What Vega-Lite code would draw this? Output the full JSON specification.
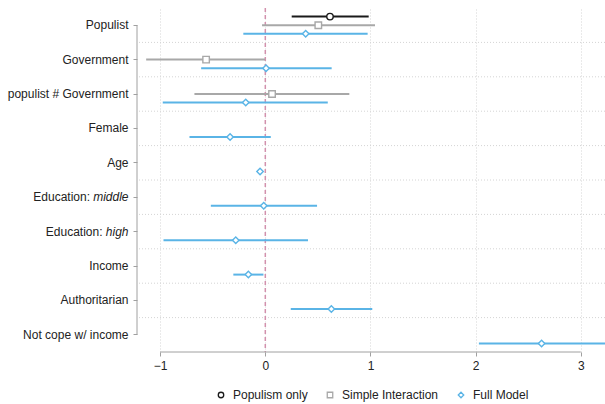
{
  "$schema": "https://vega.github.io/schema/vega-lite/v6.json",
  "autosize": "none",
  "width": 468,
  "height": 344,
  "padding": {"left": 137, "top": 8, "right": 0, "bottom": 52},
  "background": "white",
  "config": {
    "view": {"stroke": null},
    "font": "Liberation Sans",
    "axis": {"labelFont": "Liberation Sans", "labelFontSize": 12, "labelColor": "#222222"},
    "legend": {"labelFont": "Liberation Sans", "labelFontSize": 12, "labelColor": "#222222"}
  },
  "datasets": {
    "coef": [
      {"term": "Populist", "model": "Populism only", "est": 0.615, "lo": 0.251, "hi": 0.983},
      {"term": "Populist", "model": "Simple Interaction", "est": 0.504, "lo": -0.031, "hi": 1.043},
      {"term": "Populist", "model": "Full Model", "est": 0.384, "lo": -0.209, "hi": 0.973},
      {"term": "Government", "model": "Simple Interaction", "est": -0.563, "lo": -1.133, "hi": -0.002},
      {"term": "Government", "model": "Full Model", "est": 0.007, "lo": -0.61, "hi": 0.631},
      {"term": "populist # Government", "model": "Simple Interaction", "est": 0.064, "lo": -0.674, "hi": 0.799},
      {"term": "populist # Government", "model": "Full Model", "est": -0.186, "lo": -0.975, "hi": 0.594},
      {"term": "Female", "model": "Full Model", "est": -0.335, "lo": -0.721, "hi": 0.052},
      {"term": "Age", "model": "Full Model", "est": -0.05, "lo": -0.075, "hi": -0.028},
      {"term": "Education: middle", "model": "Full Model", "est": -0.015, "lo": -0.518, "hi": 0.492},
      {"term": "Education: high", "model": "Full Model", "est": -0.281, "lo": -0.968, "hi": 0.406},
      {"term": "Income", "model": "Full Model", "est": -0.161, "lo": -0.304, "hi": -0.018},
      {"term": "Authoritarian", "model": "Full Model", "est": 0.628, "lo": 0.242, "hi": 1.017},
      {"term": "Not cope w/ income", "model": "Full Model", "est": 2.627, "lo": 2.031, "hi": 3.23}
    ],
    "terms": [
      {"term": "Populist"},
      {"term": "Government"},
      {"term": "populist # Government"},
      {"term": "Female"},
      {"term": "Age"},
      {"term": "Education: middle"},
      {"term": "Education: high"},
      {"term": "Income"},
      {"term": "Authoritarian"},
      {"term": "Not cope w/ income"}
    ]
  },
  "resolve": {"axis": {"y": "independent"}},
  "layer": [
    {
      "data": {"name": "terms"},
      "transform": [{"filter": "datum.term !== 'Populist'"}],
      "mark": {"type": "rule", "color": "#d4d4d4", "strokeDash": [1, 2], "strokeWidth": 1},
      "encoding": {
        "y": {
          "field": "term",
          "type": "nominal",
          "bandPosition": 0,
          "scale": {
            "domain": ["Populist", "Government", "populist # Government", "Female", "Age", "Education: middle", "Education: high", "Income", "Authoritarian", "Not cope w/ income"],
            "paddingInner": 0,
            "paddingOuter": 0
          },
          "axis": {
            "orient": "left",
            "title": null,
            "domain": false,
            "grid": false,
            "ticks": true,
            "tickSize": 4,
            "tickColor": "#a0a0a0",
            "tickWidth": 1,
            "labelLimit": 300,
            "labelFont": "Liberation Sans",
            "labelFontSize": 12,
            "labelColor": "#222222",
            "labelExpr": "indexof(datum.value, 'Education') === 0 ? 'Education:' : datum.value",
            "labelPadding": {
              "condition": [
                {"test": "datum.value === 'Education: middle'", "value": 43.5},
                {"test": "datum.value === 'Education: high'", "value": 31}
              ],
              "value": 5
            }
          }
        }
      }
    },
    {
      "data": {"values": [{}]},
      "mark": {"type": "rule", "color": "#d291ad", "strokeDash": [4, 3], "strokeWidth": 1.5},
      "encoding": {
        "x": {
          "datum": 0,
          "type": "quantitative",
          "scale": {"domain": [-1.22, 3.23], "nice": false, "zero": false},
          "axis": {
            "title": null,
            "values": [-1, 0, 1, 2, 3],
            "format": "d",
            "domain": false,
            "tickSize": 4,
            "tickColor": "#a0a0a0",
            "labelPadding": 4,
            "labelFlush": false,
            "labelFont": "Liberation Sans",
            "labelFontSize": 12,
            "labelColor": "#222222",
            "grid": true,
            "gridColor": "#d4d4d4",
            "gridDash": [1, 2]
          }
        }
      }
    },
    {
      "data": {"name": "coef"},
      "mark": {"type": "rule", "strokeWidth": 2},
      "encoding": {
        "x": {"field": "lo", "type": "quantitative"},
        "x2": {"field": "hi"},
        "y": {
          "field": "term",
          "type": "nominal",
          "axis": {
            "orient": "left",
            "title": null,
            "domain": false,
            "grid": false,
            "ticks": true,
            "tickSize": 4,
            "tickOpacity": 0,
            "labelPadding": 5,
            "labelFont": "Liberation Sans",
            "labelFontSize": 12,
            "labelColor": "#222222",
            "labelFontStyle": "italic",
            "labelExpr": "datum.value === 'Education: middle' ? 'middle' : (datum.value === 'Education: high' ? 'high' : '')"
          }
        },
        "yOffset": {
          "field": "model",
          "type": "nominal",
          "scale": {"domain": ["Populism only", "Simple Interaction", "Full Model"], "paddingInner": 0, "paddingOuter": 0.5}
        },
        "color": {
          "field": "model",
          "type": "nominal",
          "scale": {"domain": ["Populism only", "Simple Interaction", "Full Model"], "range": ["#1a1a1a", "#a8a8a8", "#5ab4e6"]}
        }
      }
    },
    {
      "data": {"name": "coef"},
      "mark": {"type": "point", "filled": false, "fill": "white", "strokeWidth": 1.4, "size": 42, "opacity": 1},
      "encoding": {
        "x": {"field": "est", "type": "quantitative"},
        "y": {"field": "term", "type": "nominal", "axis": null},
        "yOffset": {"field": "model", "type": "nominal"},
        "color": {
          "field": "model",
          "type": "nominal",
          "legend": {
            "orient": "none",
            "legendX": 78,
            "legendY": 381,
            "direction": "horizontal",
            "title": null,
            "symbolSize": 30,
            "symbolStrokeWidth": 1.3,
            "symbolFillColor": "white",
            "columnPadding": 16,
            "labelOffset": 6,
            "labelFont": "Liberation Sans",
            "labelFontSize": 12,
            "labelColor": "#222222"
          }
        },
        "shape": {
          "field": "model",
          "type": "nominal",
          "scale": {"domain": ["Populism only", "Simple Interaction", "Full Model"], "range": ["circle", "square", "diamond"]}
        }
      }
    },
    {
      "data": {"values": [{}]},
      "mark": {"type": "rule", "color": "#a0a0a0", "strokeWidth": 1},
      "encoding": {
        "x": {"datum": -1, "type": "quantitative"},
        "x2": {"datum": 3},
        "y": {"datum": "Not cope w/ income", "type": "nominal", "bandPosition": 1, "axis": null}
      }
    },
    {
      "data": {"values": [{}]},
      "mark": {"type": "rule", "color": "#a0a0a0", "strokeWidth": 1},
      "encoding": {
        "x": {"datum": -1.22, "type": "quantitative"},
        "y": {"datum": "Populist", "type": "nominal", "bandPosition": 0.5, "axis": null},
        "y2": {"datum": "Not cope w/ income", "bandPosition": 0.5}
      }
    }
  ]
}
